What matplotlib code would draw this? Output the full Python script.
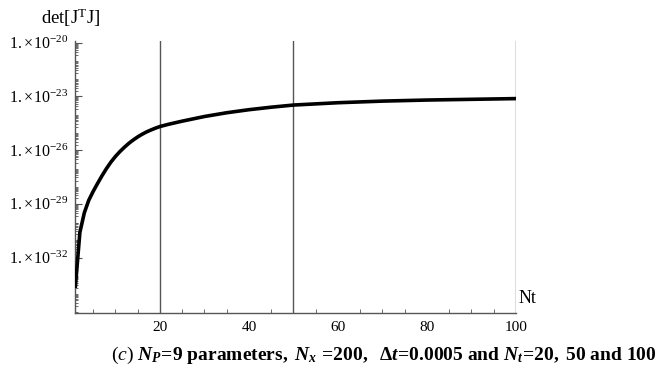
import numpy as np
import matplotlib.pyplot as plt
from matplotlib import ticker

plt.rcParams['font.family'] = 'Liberation Serif'
plt.rcParams['mathtext.fontset'] = 'custom'
plt.rcParams['mathtext.rm'] = 'Liberation Serif'
plt.rcParams['mathtext.it'] = 'Liberation Serif:italic'
plt.rcParams['mathtext.bf'] = 'Liberation Serif:bold'
plt.rcParams['mathtext.bfit'] = 'Liberation Serif:bold:italic'

# determinant of J^T J against number of time steps (log10 values)
nt = [1, 2, 3, 4, 5, 6, 7, 8, 9, 10, 11, 12, 13, 14, 15, 16, 17, 18, 19, 20,
      22, 25, 30, 35, 40, 45, 50, 60, 70, 80, 90, 100]
log_det = [-33.6, -30.6, -29.5, -28.8, -28.3, -27.85, -27.42, -27.02, -26.66, -26.35,
           -26.08, -25.84, -25.62, -25.43, -25.26, -25.11, -24.98, -24.87, -24.77, -24.68,
           -24.55, -24.38, -24.12, -23.91, -23.74, -23.6, -23.48, -23.35, -23.26, -23.2,
           -23.16, -23.12]
marked_nt = [20, 50, 100]
y_ticks = [-20, -23, -26, -29, -32]

fig = plt.figure(figsize=(6.67, 3.76), dpi=100)
ax = fig.add_axes([0.1124, 0.1676, 0.6612, 0.7234])

ax.plot(nt, 10.0 ** np.array(log_det), color='black', lw=2.6, zorder=3)
for x in marked_nt:
    ax.axvline(x, color='#555555', lw=1.0, zorder=2)

ax.set_yscale('log')
ax.set_xlim(0.9, 100)
ax.set_ylim(10 ** -35.1, 10 ** -19.9)

ax.set_yticks([10.0 ** e for e in y_ticks])
ax.set_yticklabels([r'$1.\!\times\!10^{%d}$' % e for e in y_ticks], fontsize=11.5)
ax.yaxis.set_minor_locator(ticker.LogLocator(base=10, subs=np.arange(2, 10), numticks=50))
ax.yaxis.set_minor_formatter(ticker.NullFormatter())
ax.set_xticks([20, 40, 60, 80, 100])
ax.set_xticks(np.arange(5, 100, 5), minor=True)
ax.tick_params(axis='both', which='both', direction='in', color='#555555')
ax.tick_params(axis='y', which='major', length=5, pad=5)
ax.tick_params(axis='y', which='minor', length=2)
ax.tick_params(axis='x', which='major', length=0, pad=6, labelsize=11)
ax.tick_params(axis='x', which='minor', length=3)

for s in ['top', 'right']:
    ax.spines[s].set_visible(False)
for s in ['left', 'bottom']:
    ax.spines[s].set_color('#555555')
    ax.spines[s].set_linewidth(1.0)

fig.text(0.062, 0.953, r'det[J$^{\mathrm{T}}$J]', fontsize=13.5, va='center', ha='left')
fig.text(0.778, 0.207, 'Nt', fontsize=13, va='center', ha='left')

eq = r'\!\mathbf{=}\!'
caption = (r'$\mathit{(c)}\ \mathbfit{N}_{\mathbfit{P}}' + eq + r'\mathbf{9\ parameters,\ }\mathbfit{N}_{\mathbfit{x}}'
           r'\mathbf{\ }' + eq + r'\mathbf{200,\ \ \Delta}\mathbfit{t}' + eq + r'\mathbf{0.0005\ and\ }'
           r'\mathbfit{N}_{\mathbfit{t}}' + eq + r'\mathbf{20,\ 50\ and\ 100}$')
fig.text(0.575, 0.055, caption, fontsize=14, va='center', ha='center')

fig.savefig('out.png', dpi=100)
